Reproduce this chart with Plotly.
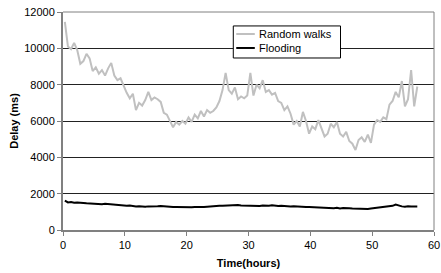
import plotly.graph_objects as go

random_walks = [
    11450, 10100, 9950, 10300, 9900, 9150, 9300, 9700, 9450, 8750,
    8950, 8600, 8800, 8500, 8900, 9200, 8500, 8250, 8350, 7900,
    7550, 7250, 7500, 6600, 7000, 6850, 7150, 7600, 7150, 7300,
    7200, 7050, 6450, 6350, 5950, 5650, 5950, 5800, 6000, 5850,
    6200, 5950, 6350, 6150, 6550, 6250, 6600, 6450, 6550, 6750,
    7100, 7700, 8650, 7700, 7500, 7850, 7200, 7350, 7250, 7400,
    8650, 7400, 8000, 7800, 8250, 7600, 7700, 7450, 7550, 7100,
    7000, 6600, 6800, 6400, 5800, 6000, 5700, 6500, 6000, 5300,
    5700, 5550, 6050, 5650, 5150, 5300, 5850, 5650, 5950, 5300,
    5150, 5400, 4900, 4750, 4400, 4950, 5100, 4850, 5250, 4800,
    5800, 6050, 5950, 6200, 6100, 6900, 7100, 7600, 7300, 8200,
    6800, 7200, 8800, 6800, 7900,
]

flooding = [
    1620, 1520, 1540, 1500, 1510, 1480, 1490, 1470, 1460, 1430,
    1440, 1390, 1420, 1440, 1420, 1400, 1410, 1380, 1370, 1360,
    1340, 1350, 1320, 1300, 1310, 1290, 1280, 1300, 1290, 1300,
    1310, 1320, 1300, 1290, 1270, 1260, 1270, 1260, 1280, 1270,
    1260, 1250, 1270, 1260, 1250, 1270, 1280, 1300, 1290, 1310,
    1330, 1340, 1350, 1370, 1360, 1390, 1370, 1350, 1340, 1360,
    1330, 1350, 1340, 1320, 1350, 1330, 1340, 1360, 1330, 1320,
    1340, 1320, 1330, 1300, 1310, 1290, 1300, 1280, 1270, 1260,
    1250, 1240, 1230, 1240, 1220, 1230, 1210, 1200, 1220, 1190,
    1210, 1220, 1200, 1190, 1180, 1170, 1180, 1170, 1160, 1180,
    1200, 1220, 1240, 1250, 1270, 1300, 1330, 1400, 1330, 1300,
    1280, 1310, 1290, 1300, 1290,
]

# sampling times (hours), one sample every half hour starting at 0.3 h
hours = [round(0.3 + 0.5 * i, 2) for i in range(len(random_walks))]

x_ticks = [0, 10, 20, 30, 40, 50, 60]
y_ticks = [0, 2000, 4000, 6000, 8000, 10000, 12000]
y_tick_labels = [str(v) for v in y_ticks]
series_names = ["Random walks", "Flooding"]
series_colors = ["#c0c0c0", "#000000"]

font_family = "Liberation Sans, Arial, sans-serif"

fig = go.Figure()
fig.add_trace(go.Scatter(
    x=hours, y=random_walks, mode="lines", name=series_names[0],
    line=dict(color=series_colors[0], width=2), showlegend=False,
))
fig.add_trace(go.Scatter(
    x=hours, y=flooding, mode="lines", name=series_names[1],
    line=dict(color=series_colors[1], width=2), showlegend=False,
))

# legend box drawn in paper coordinates
shapes = [
    dict(type="line", xref="paper", yref="paper", x0=0, x1=1, y0=1, y1=1,
         line=dict(color="#808080", width=1)),
    dict(type="line", xref="paper", yref="paper", x0=1, x1=1, y0=0, y1=1,
         line=dict(color="#808080", width=1)),
    dict(type="rect", xref="paper", yref="paper", x0=0.459, x1=0.748,
         y0=0.789, y1=0.936, line=dict(color="black", width=1),
         fillcolor="white", layer="above"),
]
annotations = []
row_y = [0.899, 0.835]
for name, color, yy in zip(series_names, series_colors, row_y):
    shapes.append(dict(type="line", xref="paper", yref="paper",
                       x0=0.467, x1=0.517, y0=yy, y1=yy,
                       line=dict(color=color, width=2), layer="above"))
    annotations.append(dict(xref="paper", yref="paper", x=0.522, y=yy,
                            xanchor="left", yanchor="middle", text=name,
                            showarrow=False, font=dict(size=11, color="black")))

fig.update_layout(
    width=441, height=273,
    margin=dict(l=63, r=7, t=12, b=43),
    paper_bgcolor="white", plot_bgcolor="white",
    font=dict(family=font_family, size=11, color="black"),
    showlegend=False,
    hovermode=False,
    xaxis=dict(
        range=[0, 60], tickvals=x_ticks, ticks="outside", ticklen=4,
        tickcolor="#808080", showline=True, linecolor="#808080", linewidth=2,
        showgrid=False, zeroline=False, automargin=False,
        title=dict(text="<b>Time(hours)</b>", font=dict(size=11), standoff=9),
        tickfont=dict(size=11),
    ),
    yaxis=dict(
        range=[0, 12000], tickvals=y_ticks, ticktext=y_tick_labels,
        ticks="outside", ticklen=4,
        tickcolor="#808080", showline=True, linecolor="#808080", linewidth=2,
        showgrid=True, gridcolor="#222222", gridwidth=1, zeroline=False,
        automargin=False,
        title=dict(text="<b>Delay (ms)</b>", font=dict(size=11), standoff=3),
        tickfont=dict(size=11),
    ),
    shapes=shapes,
    annotations=annotations,
)

fig.write_html("out.html", config={"displayModeBar": False},
               post_script="document.body.style.margin='0';")
